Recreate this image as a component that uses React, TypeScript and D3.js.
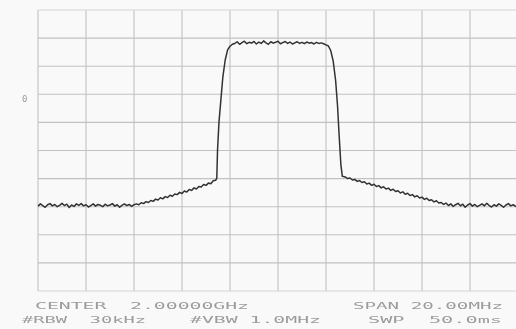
import React from 'react';
import * as d3 from 'd3';

// Trace levels (dB), per region of the sweep.
// Frequency bins are 0.1 MHz apart, offset from the 2 GHz centre.
const bins = (a: number, b: number) => d3.range(a, b).map(i => i / 10);

const floorLeftFreq = bins(-100, -59);
const floorLeft = [
  -69.8, -69.0, -69.6, -70.2, -69.3, -68.9, -69.7, -69.2, -70.0, -69.5,
  -68.8, -69.6, -69.1, -70.3, -69.4, -69.9, -69.0, -69.5, -68.9, -69.7,
  -69.3, -70.1, -69.6, -69.0, -69.8, -69.2, -69.5, -70.0, -69.1, -69.7,
  -69.4, -68.9, -69.8, -69.3, -70.2, -69.5, -69.0, -69.6, -69.2, -69.9, -69.3,
];

const shoulderLeftFreq = bins(-59, -25);
const shoulderLeft = [
  -69.0, -69.3, -68.6, -68.9, -68.2, -68.5, -67.8, -68.1, -67.3, -67.6,
  -66.8, -67.2, -66.4, -66.7, -65.9, -66.3, -65.5, -65.7, -64.9, -65.3,
  -64.4, -64.8, -63.9, -64.2, -63.3, -63.7, -62.8, -63.0, -62.1, -62.4,
  -61.6, -61.8, -60.8, -60.6,
];

const riseFreq = [-2.55, -2.52, -2.46, -2.38, -2.3, -2.2, -2.1, -2.0, -1.9];
const rise = [-59.8, -50.0, -40.0, -32.0, -24.0, -17.8, -14.2, -12.9, -12.2];

const plateauFreq = bins(-18, 21);
const plateau = [
  -11.9, -11.3, -12.2, -11.6, -11.1, -12.0, -11.5, -11.8, -11.2, -12.1,
  -11.4, -11.9, -11.0, -11.7, -12.2, -11.3, -11.8, -11.5, -11.1, -12.0,
  -11.6, -11.2, -11.9, -11.4, -12.1, -11.7, -11.3, -11.9, -11.5, -12.0,
  -11.4, -11.8, -11.6, -12.1, -11.5, -11.9, -11.7, -12.0, -12.4,
];

const fallFreq = [2.1, 2.2, 2.3, 2.4, 2.48, 2.55, 2.62, 2.68];
const fall = [-12.8, -14.5, -18.2, -25.0, -34.0, -45.0, -55.0, -59.2];

const shoulderRightFreq = bins(28, 69);
const shoulderRight = [
  -59.4, -60.0, -59.8, -60.5, -60.3, -61.0, -60.7, -61.4, -61.1, -61.9,
  -61.6, -62.4, -62.0, -62.8, -62.5, -63.3, -62.9, -63.7, -63.4, -64.2,
  -63.8, -64.6, -64.3, -65.1, -64.7, -65.6, -65.2, -66.0, -65.7, -66.5,
  -66.1, -66.9, -66.6, -67.4, -67.0, -67.8, -67.5, -68.3, -67.9, -68.7, -68.5,
];

const floorRightFreq = bins(69, 101);
const floorRight = [
  -69.2, -68.7, -69.6, -69.0, -69.9, -69.3, -68.8, -69.7, -69.1, -70.2,
  -69.4, -68.9, -69.8, -69.2, -70.0, -69.5, -69.0, -69.7, -68.8, -69.6,
  -70.1, -69.3, -69.8, -69.0, -69.5, -70.2, -69.4, -68.9, -69.7, -69.3,
  -69.9, -69.4,
];

const freqs = [
  ...floorLeftFreq, ...shoulderLeftFreq, ...riseFreq, ...plateauFreq,
  ...fallFreq, ...shoulderRightFreq, ...floorRightFreq,
];
const levels = [
  ...floorLeft, ...shoulderLeft, ...rise, ...plateau,
  ...fall, ...shoulderRight, ...floorRight,
];

const freqTicks = d3.range(-10, 11, 2);
const levelTicks = d3.range(0, -101, -10);

const footerLabels = [
  { text: 'CENTER  2.00000GHz', x0: 35, x1: 249, row: 0 },
  { text: 'SPAN 20.00MHz', x0: 353, x1: 503, row: 0 },
  { text: '#RBW  30kHz', x0: 22, x1: 146, row: 1 },
  { text: '#VBW 1.0MHz', x0: 190, x1: 321, row: 1 },
  { text: 'SWP  50.0ms', x0: 368, x1: 502, row: 1 },
];

const App: React.FC = () => {
  const width = 516;
  const height = 329;

  const x = d3.scaleLinear().domain([-10, 10]).range([38, 518]);
  const y = d3.scaleLinear().domain([0, -100]).range([10, 291]);

  const trace = d3.zip(freqs, levels) as [number, number][];
  const line = d3.line<[number, number]>().x(d => x(d[0])).y(d => y(d[1]));

  const gridColor = '#c2c2c2';
  const textColor = '#9c9c9c';

  return (
    <svg width={width} height={height} style={{ position: 'absolute', left: 0, top: 0, display: 'block' }}>
      <defs>
        <filter id="soft" x="-5%" y="-5%" width="110%" height="110%">
          <feGaussianBlur stdDeviation="0.45" />
        </filter>
      </defs>
      <rect width={width} height={height} fill="#f9f9f9" />
      <g filter="url(#soft)">
        {/* grid */}
        {freqTicks.map(t => (
          <line key={'v' + t} x1={x(t)} x2={x(t)} y1={y(0)} y2={y(-100)}
            stroke={gridColor} strokeWidth={1.1} />
        ))}
        {levelTicks.map(t => (
          <line key={'h' + t} x1={x(-10)} x2={x(10)} y1={y(t)} y2={y(t)}
            stroke={t === 0 || t === -100 ? '#d6d6d6' : gridColor} strokeWidth={1.1} />
        ))}

        {/* trace */}
        <path d={line(trace) || ''} fill="none" stroke="#333" strokeWidth={1.5} strokeLinejoin="round" />

        {/* reference marker */}
        <text x={22} y={102} fontFamily="DejaVu Sans Mono" fontSize={9} fill={textColor}>0</text>

        {/* footer annotations */}
        {footerLabels.map(l => (
          <text key={l.text} x={l.x0} y={l.row === 0 ? 308.5 : 322.5}
            textLength={l.x1 - l.x0} lengthAdjust="spacingAndGlyphs"
            xmlSpace="preserve"
            fontFamily="DejaVu Sans Mono" fontSize={8.5} fill={textColor}>
            {l.text}
          </text>
        ))}
      </g>
    </svg>
  );
};

export default App;
